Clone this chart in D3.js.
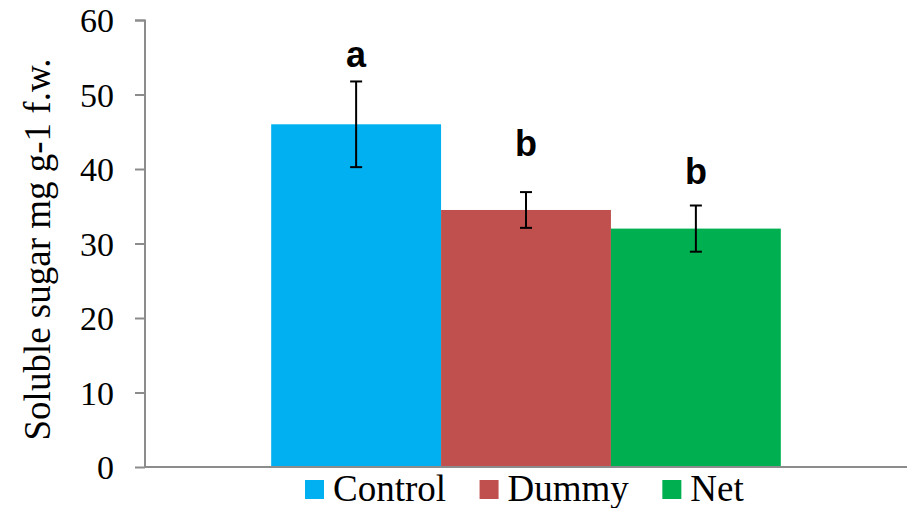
<!DOCTYPE html>
<html>
<head>
<meta charset="utf-8">
<script src="https://cdn.jsdelivr.net/npm/d3@7"></script>
<style>
  html, body { margin: 0; padding: 0; background: #fff; }
  svg { display: block; }
</style>
</head>
<body>
<svg id="chart" width="912" height="508"></svg>
<script>
// Soluble sugar content per treatment (mean ± error), with significance letters
const treatments = ["Control", "Dummy", "Net"];
const means = [46.0, 34.5, 32.0];
const errors = [5.75, 2.4, 3.1];
const letters = ["a", "b", "b"];
const letterHeights = [53.7, 41.7, 38.0];   // value level where each letter's baseline sits
const colors = ["#00B0F0", "#C0504D", "#00B050"];
const yTicks = [0, 10, 20, 30, 40, 50, 60];
const yTitle = "Soluble sugar mg g-1 f.w.";

const SERIF = '"Liberation Serif"';
const SANS = '"Liberation Sans"';

const svg = d3.select("#chart");
const margin = { top: 20, right: 5, bottom: 41, left: 145 };
const W = 912 - margin.left - margin.right;
const H = 508 - margin.top - margin.bottom;
const g = svg.append("g").attr("transform", `translate(${margin.left},${margin.top})`);

const y = d3.scaleLinear().domain([0, 60]).range([H, 0]);

// single category group, series side by side inside it
const xGroup = d3.scaleBand().domain(["all"]).range([0, W]).paddingInner(0).paddingOuter(0.2476);
const xSeries = d3.scaleBand().domain(treatments).range([0, xGroup.bandwidth()]).padding(0);
const gx = xGroup("all");

const axisColor = "#8c8c8c";

// bars
g.selectAll("rect.bar").data(treatments).join("rect")
  .attr("class", "bar")
  .attr("x", d => gx + xSeries(d))
  .attr("width", xSeries.bandwidth())
  .attr("y", (d, i) => y(means[i]))
  .attr("height", (d, i) => y(0) - y(means[i]))
  .attr("fill", (d, i) => colors[i]);

// y axis
const yAxis = d3.axisLeft(y).tickValues(yTicks).tickSize(10).tickPadding(21).tickFormat(d3.format("d"));
const ga = g.append("g").call(yAxis);
ga.select(".domain").attr("stroke", axisColor).attr("stroke-width", 2).attr("d", `M-10,0.5H0V${H}`);
ga.selectAll(".tick line").attr("stroke", axisColor).attr("stroke-width", 2);
ga.selectAll(".tick text")
  .attr("fill", "#000")
  .style("font-family", SERIF)
  .style("font-size", "34px")
  .attr("dy", "0.34em");

// x axis baseline
g.append("line")
  .attr("x1", 0).attr("x2", W)
  .attr("y1", y(0)).attr("y2", y(0))
  .attr("stroke", axisColor).attr("stroke-width", 2);

// error bars
const cap = 6;
const eb = g.selectAll("g.err").data(treatments).join("g").attr("class", "err")
  .attr("transform", d => `translate(${gx + xSeries(d) + xSeries.bandwidth() / 2},0)`);
eb.append("line").attr("x1", 0).attr("x2", 0)
  .attr("y1", (d, i) => y(means[i] + errors[i])).attr("y2", (d, i) => y(means[i] - errors[i]));
eb.append("line").attr("x1", -cap).attr("x2", cap)
  .attr("y1", (d, i) => y(means[i] + errors[i])).attr("y2", (d, i) => y(means[i] + errors[i]));
eb.append("line").attr("x1", -cap).attr("x2", cap)
  .attr("y1", (d, i) => y(means[i] - errors[i])).attr("y2", (d, i) => y(means[i] - errors[i]));
eb.selectAll("line").attr("stroke", "#000").attr("stroke-width", 2);

// significance letters
g.selectAll("text.sig").data(treatments).join("text")
  .attr("class", "sig")
  .attr("x", d => gx + xSeries(d) + xSeries.bandwidth() / 2)
  .attr("y", (d, i) => y(letterHeights[i]))
  .attr("text-anchor", "middle")
  .style("font-family", SANS)
  .style("font-weight", "bold")
  .style("font-size", "36px")
  .text((d, i) => letters[i]);

// y axis title
svg.append("text")
  .attr("transform", `translate(50,${margin.top + y(30) + 6}) rotate(-90)`)
  .attr("text-anchor", "middle")
  .style("font-family", SERIF)
  .style("font-size", "37px")
  .attr("fill", "#000")
  .text(yTitle);

// legend
const legend = svg.append("g").attr("transform", "translate(305,501)");
let lx = 0;
treatments.forEach((t, i) => {
  const item = legend.append("g").attr("transform", `translate(${lx},0)`);
  item.append("rect").attr("x", 0).attr("y", -21).attr("width", 19).attr("height", 19).attr("fill", colors[i]);
  const txt = item.append("text")
    .attr("x", 28).attr("y", 0)
    .style("font-family", SERIF)
    .style("font-size", "37px")
    .attr("fill", "#000")
    .text(t);
  lx += 28 + txt.node().getComputedTextLength() + 33.5;
});
</script>
</body>
</html>
